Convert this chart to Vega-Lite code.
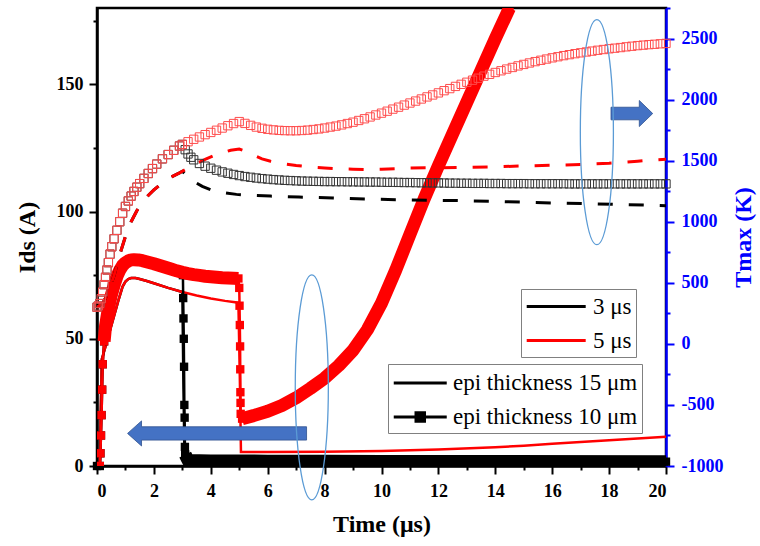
{
"$schema": "https://vega.github.io/schema/vega-lite/v6.json",
"width": 569, "height": 458,
"autosize": {"type": "none"},
"padding": {"left": 97, "top": 8, "right": 94, "bottom": 80},
"background": "white",
"config": {
  "view": {"stroke": "black", "strokeWidth": 2.5},
  "axis": {"grid": false, "domainColor": "black", "domainWidth": 2.5, "tickColor": "black", "tickWidth": 2, "labelFont": "Liberation Serif", "labelFontWeight": "bold", "labelFontSize": 18, "labelColor": "black", "titleFont": "Liberation Serif", "titleFontWeight": "bold", "titleFontSize": 24, "titleColor": "black", "labelOverlap": false},
  "legend": {"labelFont": "Liberation Serif", "labelFontSize": 23, "labelColor": "black", "labelLimit": 400, "strokeColor": "#808080", "fillColor": "white", "padding": 4}
},
"datasets": {
  "ir10": [{"t":0,"v":0},{"t":0.1,"v":0},{"t":0.12,"v":5},{"t":0.14,"v":12},{"t":0.16,"v":20},{"t":0.18,"v":30},{"t":0.2,"v":40},{"t":0.25,"v":49},{"t":0.3,"v":55},{"t":0.4,"v":62},{"t":0.5,"v":67},{"t":0.6,"v":71},{"t":0.7,"v":74.5},{"t":0.8,"v":77},{"t":0.9,"v":78.8},{"t":1.0,"v":79.9},{"t":1.1,"v":80.6},{"t":1.2,"v":81},{"t":1.3,"v":81.1},{"t":1.45,"v":81},{"t":1.6,"v":80.7},{"t":1.8,"v":80.1},{"t":2.0,"v":79.5},{"t":2.2,"v":78.8},{"t":2.4,"v":78.1},{"t":2.6,"v":77.4},{"t":2.8,"v":76.7},{"t":3.0,"v":76.1},{"t":3.2,"v":75.6},{"t":3.4,"v":75.2},{"t":3.6,"v":74.9},{"t":3.8,"v":74.6},{"t":4.0,"v":74.4},{"t":4.2,"v":74.2},{"t":4.4,"v":74.0},{"t":4.6,"v":73.9},{"t":4.8,"v":73.8},{"t":4.97,"v":73.7},{"t":5.0,"v":70},{"t":5.01,"v":63},{"t":5.02,"v":55.4},{"t":5.03,"v":47},{"t":5.035,"v":38},{"t":5.04,"v":29},{"t":5.045,"v":24.8},{"t":5.05,"v":20.5},{"t":5.1,"v":18.6},{"t":5.5,"v":19.8},{"t":6.0,"v":21.5},{"t":6.5,"v":23.8},{"t":7.0,"v":26.8},{"t":7.5,"v":30.5},{"t":8.0,"v":34.5},{"t":8.5,"v":39.5},{"t":9.0,"v":45.5},{"t":9.5,"v":53.5},{"t":10.0,"v":64},{"t":10.5,"v":77},{"t":11.0,"v":91},{"t":11.5,"v":105},{"t":12.0,"v":118},{"t":12.5,"v":130.5},{"t":13.0,"v":143},{"t":13.5,"v":155.5},{"t":14.0,"v":168},{"t":14.5,"v":180}],
  "ib10": [{"t":0,"v":0},{"t":0.1,"v":0},{"t":0.12,"v":5},{"t":0.14,"v":12},{"t":0.16,"v":20},{"t":0.18,"v":30},{"t":0.2,"v":40},{"t":0.25,"v":49},{"t":0.3,"v":55},{"t":0.4,"v":62},{"t":0.5,"v":67},{"t":0.6,"v":71},{"t":0.7,"v":74.5},{"t":0.8,"v":77},{"t":0.9,"v":78.8},{"t":1.0,"v":79.9},{"t":1.1,"v":80.6},{"t":1.2,"v":81},{"t":1.3,"v":81.1},{"t":1.45,"v":81},{"t":1.6,"v":80.7},{"t":1.8,"v":80.1},{"t":2.0,"v":79.5},{"t":2.2,"v":78.8},{"t":2.4,"v":78.1},{"t":2.6,"v":77.4},{"t":2.8,"v":76.7},{"t":3.0,"v":76.1},{"t":3.02,"v":75},{"t":3.03,"v":66},{"t":3.04,"v":58},{"t":3.05,"v":50},{"t":3.06,"v":39},{"t":3.07,"v":24},{"t":3.08,"v":19},{"t":3.09,"v":7.5},{"t":3.1,"v":4.5},{"t":3.2,"v":2.2},{"t":4,"v":2.0},{"t":6,"v":1.9},{"t":8,"v":1.9},{"t":10,"v":1.8},{"t":14,"v":1.8},{"t":20,"v":1.7}],
  "ir15": [{"t":0,"v":0},{"t":0.1,"v":0},{"t":0.13,"v":20},{"t":0.17,"v":42},{"t":0.3,"v":47},{"t":0.45,"v":53},{"t":0.6,"v":59},{"t":0.75,"v":65},{"t":0.9,"v":70.5},{"t":1.0,"v":72.5},{"t":1.1,"v":73.5},{"t":1.2,"v":73.9},{"t":1.35,"v":73.9},{"t":1.5,"v":73.5},{"t":1.75,"v":72.7},{"t":2.0,"v":71.8},{"t":2.5,"v":70.0},{"t":3.0,"v":68.4},{"t":3.5,"v":67.0},{"t":4.0,"v":65.8},{"t":4.5,"v":64.9},{"t":4.97,"v":64.2},{"t":5.02,"v":35},{"t":5.06,"v":5.5},{"t":6,"v":5.5},{"t":8,"v":5.6},{"t":10,"v":5.9},{"t":12,"v":6.5},{"t":14,"v":7.4},{"t":15,"v":8.0},{"t":16,"v":8.7},{"t":17,"v":9.4},{"t":18,"v":10.1},{"t":19,"v":10.8},{"t":20,"v":11.5}],
  "ib15": [{"t":0,"v":0},{"t":0.1,"v":0},{"t":0.13,"v":20},{"t":0.17,"v":42},{"t":0.3,"v":47},{"t":0.45,"v":53},{"t":0.6,"v":59},{"t":0.75,"v":65},{"t":0.9,"v":70.5},{"t":1.0,"v":72.5},{"t":1.1,"v":73.5},{"t":1.2,"v":73.9},{"t":1.35,"v":73.9},{"t":1.5,"v":73.5},{"t":1.75,"v":72.7},{"t":2.0,"v":71.8},{"t":2.5,"v":70.0},{"t":3.0,"v":68.4},{"t":3.04,"v":30},{"t":3.08,"v":0.8},{"t":5,"v":0.8},{"t":10,"v":0.7},{"t":20,"v":0.6}],
  "tr10": [{"t":0,"v":300},{"t":0.05,"v":310},{"t":0.1,"v":330},{"t":0.15,"v":370},{"t":0.2,"v":425},{"t":0.25,"v":485},{"t":0.3,"v":545},{"t":0.35,"v":605},{"t":0.4,"v":665},{"t":0.46,"v":735},{"t":0.52,"v":795},{"t":0.6,"v":860},{"t":0.7,"v":930},{"t":0.8,"v":1000},{"t":0.9,"v":1070},{"t":1.0,"v":1125},{"t":1.1,"v":1170},{"t":1.2,"v":1210},{"t":1.3,"v":1248},{"t":1.4,"v":1283},{"t":1.5,"v":1312},{"t":1.65,"v":1355},{"t":1.8,"v":1395},{"t":1.95,"v":1435},{"t":2.1,"v":1472},{"t":2.3,"v":1515},{"t":2.5,"v":1550},{"t":2.7,"v":1585},{"t":2.9,"v":1620},{"t":3.0,"v":1633},{"t":3.2,"v":1655},{"t":3.4,"v":1675},{"t":3.6,"v":1694},{"t":3.8,"v":1713},{"t":4.0,"v":1731},{"t":4.2,"v":1749},{"t":4.4,"v":1767},{"t":4.6,"v":1786},{"t":4.8,"v":1804},{"t":5.0,"v":1820},{"t":5.2,"v":1805},{"t":5.4,"v":1789},{"t":5.6,"v":1775},{"t":5.8,"v":1765},{"t":6.0,"v":1757},{"t":6.2,"v":1752},{"t":6.4,"v":1748},{"t":6.6,"v":1746},{"t":6.8,"v":1745},{"t":7.0,"v":1745},{"t":7.2,"v":1747},{"t":7.4,"v":1750},{"t":7.6,"v":1755},{"t":7.8,"v":1760},{"t":8.0,"v":1767},{"t":8.2,"v":1775},{"t":8.4,"v":1783},{"t":8.6,"v":1793},{"t":8.8,"v":1804},{"t":9.0,"v":1815},{"t":9.2,"v":1829},{"t":9.4,"v":1843},{"t":9.6,"v":1858},{"t":9.8,"v":1874},{"t":10.0,"v":1889},{"t":10.2,"v":1905},{"t":10.4,"v":1922},{"t":10.6,"v":1938},{"t":10.8,"v":1955},{"t":11.0,"v":1972},{"t":11.2,"v":1988},{"t":11.4,"v":2005},{"t":11.6,"v":2022},{"t":11.8,"v":2038},{"t":12.0,"v":2055},{"t":12.2,"v":2073},{"t":12.4,"v":2090},{"t":12.6,"v":2108},{"t":12.8,"v":2125},{"t":13.0,"v":2142},{"t":13.2,"v":2159},{"t":13.4,"v":2175},{"t":13.6,"v":2192},{"t":13.8,"v":2207},{"t":14.0,"v":2222},{"t":14.2,"v":2236},{"t":14.4,"v":2250},{"t":14.6,"v":2263},{"t":14.8,"v":2276},{"t":15.0,"v":2288},{"t":15.2,"v":2300},{"t":15.4,"v":2311},{"t":15.6,"v":2322},{"t":15.8,"v":2332},{"t":16.0,"v":2342},{"t":16.2,"v":2351},{"t":16.4,"v":2360},{"t":16.6,"v":2368},{"t":16.8,"v":2376},{"t":17.0,"v":2383},{"t":17.2,"v":2390},{"t":17.4,"v":2397},{"t":17.6,"v":2404},{"t":17.8,"v":2410},{"t":18.0,"v":2416},{"t":18.2,"v":2421},{"t":18.4,"v":2426},{"t":18.6,"v":2432},{"t":18.8,"v":2437},{"t":19.0,"v":2442},{"t":19.2,"v":2446},{"t":19.4,"v":2450},{"t":19.6,"v":2453},{"t":19.8,"v":2457},{"t":20.0,"v":2460}],
  "tb10": [{"t":0,"v":300},{"t":0.05,"v":310},{"t":0.1,"v":330},{"t":0.15,"v":370},{"t":0.2,"v":425},{"t":0.25,"v":485},{"t":0.3,"v":545},{"t":0.35,"v":605},{"t":0.4,"v":665},{"t":0.46,"v":735},{"t":0.52,"v":795},{"t":0.6,"v":860},{"t":0.7,"v":930},{"t":0.8,"v":1000},{"t":0.9,"v":1070},{"t":1.0,"v":1125},{"t":1.1,"v":1170},{"t":1.2,"v":1210},{"t":1.3,"v":1248},{"t":1.4,"v":1283},{"t":1.5,"v":1312},{"t":1.65,"v":1355},{"t":1.8,"v":1395},{"t":1.95,"v":1435},{"t":2.1,"v":1472},{"t":2.3,"v":1515},{"t":2.5,"v":1550},{"t":2.7,"v":1585},{"t":2.9,"v":1620},{"t":3.0,"v":1633},{"t":3.1,"v":1590},{"t":3.2,"v":1555},{"t":3.3,"v":1528},{"t":3.4,"v":1507},{"t":3.6,"v":1477},{"t":3.8,"v":1455},{"t":4.0,"v":1438},{"t":4.2,"v":1422},{"t":4.4,"v":1408},{"t":4.6,"v":1397},{"t":4.8,"v":1387},{"t":5.0,"v":1378},{"t":5.2,"v":1370},{"t":5.4,"v":1364},{"t":5.6,"v":1358},{"t":5.8,"v":1353},{"t":6.0,"v":1349},{"t":6.2,"v":1345},{"t":6.4,"v":1342},{"t":6.6,"v":1339},{"t":6.8,"v":1337},{"t":7.0,"v":1335},{"t":7.2,"v":1333},{"t":7.4,"v":1332},{"t":7.6,"v":1331},{"t":7.8,"v":1330},{"t":8.0,"v":1329},{"t":8.2,"v":1329},{"t":8.4,"v":1328},{"t":8.6,"v":1328},{"t":8.8,"v":1327},{"t":9.0,"v":1327},{"t":9.2,"v":1326},{"t":9.4,"v":1326},{"t":9.6,"v":1325},{"t":9.8,"v":1325},{"t":10.0,"v":1324},{"t":10.2,"v":1323},{"t":10.4,"v":1323},{"t":10.6,"v":1322},{"t":10.8,"v":1321},{"t":11.0,"v":1321},{"t":11.2,"v":1320},{"t":11.4,"v":1319},{"t":11.6,"v":1319},{"t":11.8,"v":1318},{"t":12.0,"v":1318},{"t":12.2,"v":1317},{"t":12.4,"v":1316},{"t":12.6,"v":1316},{"t":12.8,"v":1315},{"t":13.0,"v":1315},{"t":13.2,"v":1314},{"t":13.4,"v":1314},{"t":13.6,"v":1314},{"t":13.8,"v":1313},{"t":14.0,"v":1313},{"t":14.2,"v":1313},{"t":14.4,"v":1312},{"t":14.6,"v":1312},{"t":14.8,"v":1312},{"t":15.0,"v":1312},{"t":15.2,"v":1311},{"t":15.4,"v":1311},{"t":15.6,"v":1311},{"t":15.8,"v":1311},{"t":16.0,"v":1311},{"t":16.2,"v":1311},{"t":16.4,"v":1311},{"t":16.6,"v":1310},{"t":16.8,"v":1310},{"t":17.0,"v":1310},{"t":17.2,"v":1310},{"t":17.4,"v":1310},{"t":17.6,"v":1310},{"t":17.8,"v":1310},{"t":18.0,"v":1310},{"t":18.2,"v":1310},{"t":18.4,"v":1310},{"t":18.6,"v":1310},{"t":18.8,"v":1310},{"t":19.0,"v":1310},{"t":19.2,"v":1310},{"t":19.4,"v":1310},{"t":19.6,"v":1310},{"t":19.8,"v":1310},{"t":20.0,"v":1310}],
  "tr15": [{"t":0,"v":300},{"t":0.2,"v":330},{"t":0.4,"v":420},{"t":0.6,"v":560},{"t":0.8,"v":730},{"t":1.0,"v":880},{"t":1.2,"v":1000},{"t":1.4,"v":1090},{"t":1.6,"v":1160},{"t":1.8,"v":1215},{"t":2.0,"v":1260},{"t":2.3,"v":1320},{"t":2.6,"v":1365},{"t":2.9,"v":1400},{"t":3.0,"v":1413},{"t":3.2,"v":1440},{"t":3.5,"v":1478},{"t":3.8,"v":1510},{"t":4.1,"v":1540},{"t":4.4,"v":1565},{"t":4.7,"v":1585},{"t":5.0,"v":1595},{"t":5.2,"v":1580},{"t":5.5,"v":1545},{"t":5.8,"v":1515},{"t":6.1,"v":1495},{"t":6.5,"v":1477},{"t":7.0,"v":1461},{"t":7.5,"v":1448},{"t":8.0,"v":1440},{"t":8.5,"v":1433},{"t":9.0,"v":1430},{"t":9.5,"v":1428},{"t":10.0,"v":1430},{"t":10.5,"v":1435},{"t":11.0,"v":1440},{"t":12.0,"v":1442},{"t":13.0,"v":1446},{"t":14.0,"v":1450},{"t":15.0,"v":1457},{"t":16.0,"v":1462},{"t":17.0,"v":1469},{"t":18.0,"v":1479},{"t":19.0,"v":1495},{"t":19.5,"v":1505},{"t":20.0,"v":1512}],
  "tb15": [{"t":0,"v":300},{"t":0.2,"v":330},{"t":0.4,"v":420},{"t":0.6,"v":560},{"t":0.8,"v":730},{"t":1.0,"v":880},{"t":1.2,"v":1000},{"t":1.4,"v":1090},{"t":1.6,"v":1160},{"t":1.8,"v":1215},{"t":2.0,"v":1260},{"t":2.3,"v":1320},{"t":2.6,"v":1365},{"t":2.9,"v":1400},{"t":3.0,"v":1413},{"t":3.2,"v":1370},{"t":3.4,"v":1330},{"t":3.7,"v":1290},{"t":4.0,"v":1262},{"t":4.4,"v":1240},{"t":4.9,"v":1224},{"t":5.5,"v":1215},{"t":6.1,"v":1210},{"t":7.1,"v":1202},{"t":8.3,"v":1195},{"t":9.4,"v":1186},{"t":10.5,"v":1181},{"t":11.6,"v":1176},{"t":12.7,"v":1173},{"t":13.8,"v":1168},{"t":14.9,"v":1161},{"t":16.0,"v":1154},{"t":17.2,"v":1148},{"t":18.2,"v":1142},{"t":19.4,"v":1135},{"t":20.0,"v":1131}],
  "epi": [{"e":"epi thickness 15 μm"},{"e":"epi thickness 10 μm"}],
  "arrowL": [{"t":4.22,"v":12.8}],
  "ellL": [{"t":7.55,"v":30.9}],
  "arrowR": [{"t":18.8,"v":1886}],
  "ellR": [{"t":17.57,"v":1733}]
},
"layer": [
  {
    "encoding": {"x": {"field": "t", "type": "quantitative", "title": "Time (μs)", "scale": {"domain": [0, 20], "nice": false}, "axis": {"orient": "bottom", "values": [0,2,4,6,8,10,12,14,16,18,20], "format": "d", "tickSize": 8, "labelPadding": 8, "titlePadding": 12}}},
    "layer": [
      {
        "encoding": {"y": {"field": "v", "type": "quantitative", "scale": {"domain": [0, 180], "nice": false}, "axis": {"orient": "left", "values": [0,50,100,150], "format": "d", "title": "Ids (A)", "tickSize": 8, "labelPadding": 6, "titlePadding": 17}}},
        "layer": [
          {"data": {"name": "ib15"}, "mark": {"type": "line", "strokeWidth": 2.5},
           "encoding": {"color": {"datum": "3 μs", "type": "nominal", "scale": {"domain": ["3 μs", "5 μs"], "range": ["black", "red"]}, "legend": {"title": null, "orient": "none", "legendX": 424, "legendY": 281, "symbolType": "M-1,0H4", "symbolSize": 557, "symbolStrokeWidth": 3, "labelOffset": 41, "rowPadding": 8, "padding": 4}}}},
          {"data": {"name": "ir15"}, "mark": {"type": "line", "strokeWidth": 2.5},
           "encoding": {"color": {"datum": "5 μs", "type": "nominal", "scale": {"domain": ["3 μs", "5 μs"], "range": ["black", "red"]}, "legend": {"title": null, "orient": "none", "legendX": 424, "legendY": 281, "symbolType": "M-1,0H4", "symbolSize": 557, "symbolStrokeWidth": 3, "labelOffset": 41, "rowPadding": 8, "padding": 4}}}},
          {"data": {"name": "ib10"}, "mark": {"type": "line", "color": "black", "strokeWidth": 2.5}, "encoding": {}},
          {"data": {"name": "ib10"}, "transform": [{"filter": "datum.t >= 3.1"}], "mark": {"type": "line", "color": "black", "strokeWidth": 13, "strokeJoin": "round", "clip": true}, "encoding": {}},
          {"data": {"name": "ib10"}, "mark": {"type": "point", "shape": "square", "filled": true, "color": "black", "size": 70, "opacity": 1}, "encoding": {}},
          {"data": {"name": "ir10"}, "mark": {"type": "line", "color": "red", "strokeWidth": 2.5, "clip": true}, "encoding": {}},
          {"data": {"name": "ir10"}, "transform": [{"filter": "datum.t >= 0.25 && datum.t <= 4.97"}], "mark": {"type": "line", "color": "red", "strokeWidth": 13, "strokeJoin": "round"}, "encoding": {}},
          {"data": {"name": "ir10"}, "transform": [{"filter": "datum.t >= 5.1"}], "mark": {"type": "line", "color": "red", "strokeWidth": 13, "strokeJoin": "round", "clip": true}, "encoding": {}},
          {"data": {"name": "ir10"}, "mark": {"type": "point", "shape": "square", "filled": true, "color": "red", "size": 70, "opacity": 1, "clip": true}, "encoding": {}},
          {"data": {"name": "arrowL"}, "mark": {"type": "point", "shape": "M-1,0L-0.844,-0.14L-0.844,-0.0745L1,-0.0745L1,0.0745L-0.844,0.0745L-0.844,0.14Z", "size": 32041, "filled": true, "fill": "#4472C4", "stroke": "#2F528F", "strokeWidth": 0.8, "opacity": 1}, "encoding": {}},
          {"data": {"name": "ellL"}, "mark": {"type": "point", "shape": "M0,-1A0.147,1,0,1,1,0,1A0.147,1,0,1,1,0,-1Z", "size": 50625, "filled": false, "stroke": "#5B9BD5", "strokeWidth": 1.3, "opacity": 1}, "encoding": {}}
        ]
      },
      {
        "data": {"name": "epi"},
        "mark": {"type": "point", "filled": true, "color": "black", "stroke": "black", "strokeWidth": 3, "opacity": 0},
        "encoding": {
          "y": {"field": "v", "type": "quantitative", "scale": {"domain": [0, 180], "nice": false}, "axis": {"orient": "left", "values": [25,75,125,175], "labels": false, "domain": false, "title": null, "tickSize": 4}},
          "shape": {"field": "e", "type": "nominal", "scale": {"domain": ["epi thickness 15 μm", "epi thickness 10 μm"], "range": ["M-1,0H3", "M-1,0H3M0.68,-0.317H1.32V0.317H0.68Z"]}, "legend": {"title": null, "orient": "none", "legendX": 291, "legendY": 356, "symbolSize": 702, "symbolOpacity": 1, "symbolStrokeWidth": 3, "labelOffset": 31, "rowPadding": 7, "padding": 4, "encode": {"symbols": {"stroke": {"value": "black"}, "fill": {"value": "black"}, "strokeWidth": {"value": 3}, "opacity": {"value": 1}}}}}
        }
      }
    ],
    "resolve": {"axis": {"y": "independent"}}
  },
  {
    "encoding": {"x": {"field": "t", "type": "quantitative", "scale": {"domain": [0, 20], "nice": false}, "axis": {"orient": "bottom", "values": [1,3,5,7,9,11,13,15,17,19], "labels": false, "domain": false, "title": null, "tickSize": 4}}},
    "layer": [
      {
        "encoding": {"y": {"field": "v", "type": "quantitative", "scale": {"domain": [-1000, 2750], "nice": false}, "axis": {"orient": "right", "values": [-1000,-500,0,500,1000,1500,2000,2500], "labelExpr": "replace(format(datum.value, 'd'), '−', '-')", "title": "Tmax (K)", "titleAngle": 270, "titleBaseline": "top", "tickSize": 8, "labelPadding": 7, "titlePadding": 9, "domainColor": "#0000ff", "tickColor": "#0000ff", "labelColor": "#0000ff", "titleColor": "#0000ff"}}},
        "layer": [
          {"data": {"name": "tb15"}, "mark": {"type": "line", "color": "black", "strokeWidth": 3, "strokeDash": [15, 16]}, "encoding": {}},
          {"data": {"name": "tr15"}, "mark": {"type": "line", "color": "red", "strokeWidth": 3, "strokeDash": [15, 16]}, "encoding": {}},
          {"data": {"name": "tb10"}, "mark": {"type": "point", "shape": "square", "filled": false, "stroke": "#333333", "strokeWidth": 1, "size": 69, "opacity": 1}, "encoding": {}},
          {"data": {"name": "tr10"}, "mark": {"type": "point", "shape": "square", "filled": false, "stroke": "#ff4d4d", "strokeWidth": 1, "size": 69, "opacity": 1}, "encoding": {}},
          {"data": {"name": "arrowR"}, "mark": {"type": "point", "shape": "M1,0L0.357,-0.624L0.357,-0.302L-1,-0.302L-1,0.302L0.357,0.302L0.357,0.624Z", "size": 1739, "filled": true, "fill": "#4472C4", "stroke": "#2F528F", "strokeWidth": 0.8, "opacity": 1}, "encoding": {}},
          {"data": {"name": "ellR"}, "mark": {"type": "point", "shape": "M0,-1A0.147,1,0,1,1,0,1A0.147,1,0,1,1,0,-1Z", "size": 50625, "filled": false, "stroke": "#5B9BD5", "strokeWidth": 1.3, "opacity": 1}, "encoding": {}}
        ]
      },
      {
        "data": {"name": "epi"},
        "mark": {"type": "point", "opacity": 0},
        "encoding": {
          "y": {"field": "v", "type": "quantitative", "scale": {"domain": [-1000, 2750], "nice": false}, "axis": {"orient": "right", "values": [-750,-250,250,750,1250,1750,2250,2750], "labels": false, "domain": false, "title": null, "tickSize": 4, "tickColor": "#0000ff"}}
        }
      }
    ],
    "resolve": {"axis": {"y": "independent"}}
  }
],
"resolve": {"scale": {"y": "independent"}, "axis": {"x": "independent"}}
}
